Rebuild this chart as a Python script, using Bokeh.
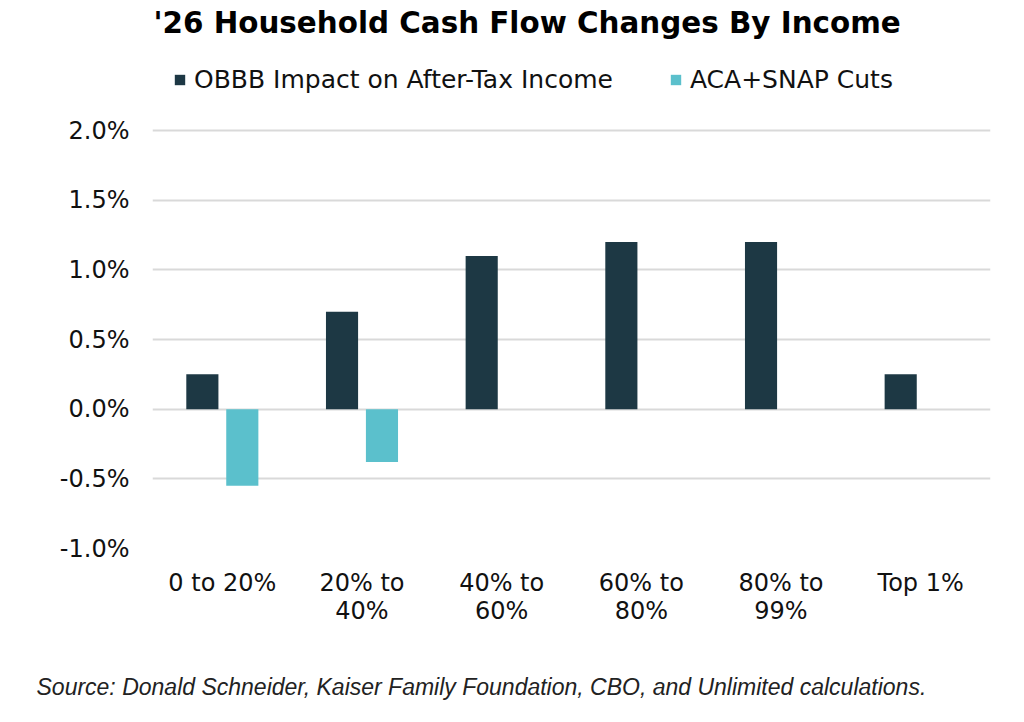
from bokeh.plotting import figure
from bokeh.models import (ColumnDataSource, FactorRange, Range1d, FixedTicker,
                          PrintfTickFormatter, Legend, LegendItem, Title)
from bokeh.transform import dodge
from bokeh.embed import file_html
from bokeh.resources import INLINE

# ---- data ----
categories = ["0 to 20%", "20% to\n40%", "40% to\n60%", "60% to\n80%", "80% to\n99%", "Top 1%"]
obbb_impact = [0.25, 0.70, 1.10, 1.20, 1.20, 0.25]
aca_snap_cuts = [-0.55, -0.38, float("nan"), float("nan"), float("nan"), float("nan")]
y_ticks = [-1.0, -0.5, 0.0, 0.5, 1.0, 1.5, 2.0]
series_names = ["OBBB Impact on After-Tax Income", "ACA+SNAP Cuts"]
title_text = "'26 Household Cash Flow Changes By Income"
source_text = "Source: Donald Schneider, Kaiser Family Foundation, CBO, and Unlimited calculations."

DARK = "#1d3844"
TEAL = "#5bc0cc"
FONT = "DejaVu Sans"

PX_PER_UNIT = 139.33
FRAME_TOP, FRAME_BOTTOM = 41, 548
FRAME_H = FRAME_BOTTOM - FRAME_TOP
FIG_H = 706

src = ColumnDataSource(dict(cat=categories, obbb=obbb_impact, aca=aca_snap_cuts))

p = figure(width=1008, height=FIG_H, output_backend="svg", toolbar_location=None,
           x_range=FactorRange(factors=categories),
           y_range=Range1d(-1.0, -1.0 + FRAME_H / PX_PER_UNIT),
           min_border_left=152, min_border_right=18, min_border_top=FRAME_TOP,
           min_border_bottom=FIG_H - FRAME_BOTTOM, outline_line_color=None, title=None)

r1 = p.vbar(x=dodge("cat", -0.143, range=p.x_range), top="obbb", bottom=0, width=0.23,
            source=src, fill_color=DARK, line_color=None)
r2 = p.vbar(x=dodge("cat", 0.143, range=p.x_range), top="aca", bottom=0, width=0.23,
            source=src, fill_color=TEAL, line_color=None)

# axes
p.yaxis.ticker = FixedTicker(ticks=y_ticks)
p.yaxis.formatter = PrintfTickFormatter(format="%.1f%%")
for ax in (p.xaxis[0], p.yaxis[0]):
    ax.axis_line_color = None
    ax.major_tick_line_color = None
    ax.minor_tick_line_color = None
    ax.major_label_text_font = FONT
    ax.major_label_text_font_size = "24px"
    ax.major_label_text_color = "#111111"
p.yaxis.major_label_standoff = 17
p.xaxis.major_label_standoff = 14
p.xaxis.major_label_text_line_height = 1.0

p.xgrid.grid_line_color = None
p.ygrid.grid_line_color = "#d9d9d9"
p.ygrid.grid_line_width = 2
p.ygrid.ticker = FixedTicker(ticks=y_ticks)

# legend at the top of the frame (above the gridded area)
legend = Legend(items=[LegendItem(label=series_names[0], renderers=[r1]),
                       LegendItem(label=series_names[1], renderers=[r2])],
                orientation="horizontal", location=(21, FRAME_BOTTOM - 94),
                glyph_width=13, glyph_height=13, label_standoff=8, spacing=56,
                padding=0, margin=0, border_line_color=None,
                background_fill_alpha=0,
                label_text_font=FONT, label_text_font_size="25px",
                label_text_color="#111111")
p.add_layout(legend, "center")

p.add_layout(Title(text=title_text, align="left", offset=1, standoff=4,
                   text_font=FONT, text_font_size="29.4px", text_font_style="bold",
                   text_color="#000000"), "above")

src_title = Title(text=source_text, align="left", offset=-116, standoff=4,
                  vertical_align="top",
                  text_font="Liberation Sans", text_font_size="23px",
                  text_font_style="italic", text_color="#222222")
try:
    src_title.padding = dict(top=44, bottom=0, left=0, right=0)
except Exception:
    try:
        src_title.padding = (44, 0, 0, 0)
    except Exception:
        pass
p.add_layout(src_title, "below")

open("out.html", "w").write(file_html(p, INLINE))
